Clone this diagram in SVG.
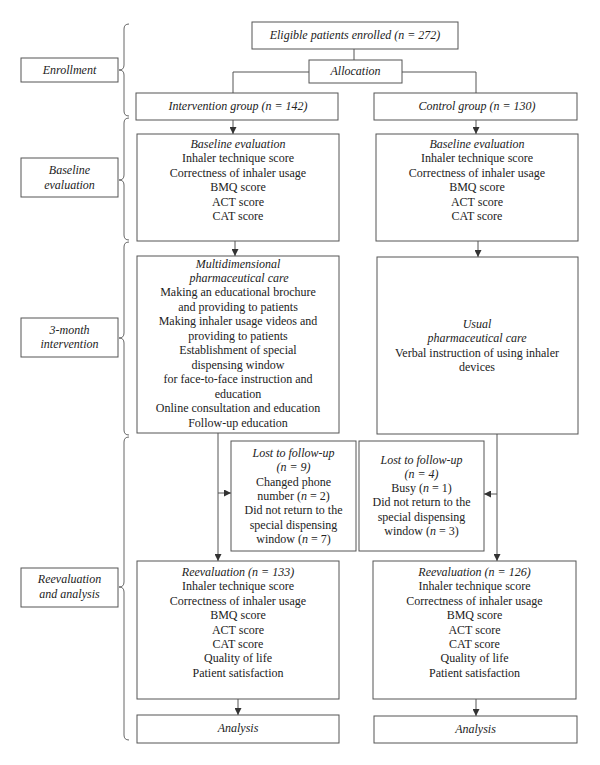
<svg xmlns="http://www.w3.org/2000/svg" width="600" height="765" viewBox="0 0 600 765">
<defs>
<style>
.box{fill:#fff;stroke:#555;stroke-width:1}
.ln{fill:none;stroke:#555;stroke-width:1}
.br{fill:none;stroke:#666;stroke-width:1}
.t{font-family:"Liberation Serif","Times New Roman",serif;font-size:12px;fill:#222;text-anchor:middle}
.i{font-style:italic}
</style>
<marker id="ar" markerUnits="userSpaceOnUse" markerWidth="7" markerHeight="7" refX="7" refY="3.5" orient="auto">
<path d="M0,0 L7,3.5 L0,7 z" fill="#333"/>
</marker>
</defs>
<rect width="600" height="765" fill="#fff"/>

<g id="braces">
<path class="br" d="M129,24 Q124,24 124,29 L124,65 Q124,70 119,70 Q124,70 124,75 L124,111 Q124,116 129,116"/>
<path class="br" d="M129,118 Q124,118 124,123 L124,175 Q124,180 119,180 Q124,180 124,185 L124,235 Q124,240 129,240"/>
<path class="br" d="M129,242 Q124,242 124,247 L124,333 Q124,338 119,338 Q124,338 124,343 L124,430 Q124,435 129,435"/>
<path class="br" d="M129,437 Q124,437 124,442 L124,582 Q124,587 119,587 Q124,587 124,592 L124,735 Q124,740 129,740"/>
</g>

<g id="connectors">
<path class="ln" d="M354,49 L354,60"/>
<path class="ln" d="M309,72 L233,72 L233,93"/>
<path class="ln" d="M402,72 L476,72 L476,93"/>
<path class="ln" d="M233,120 L233,134" marker-end="url(#ar)"/>
<path class="ln" d="M476,120 L476,134" marker-end="url(#ar)"/>
<path class="ln" d="M235,241 L235,256" marker-end="url(#ar)"/>
<path class="ln" d="M478,241 L478,257" marker-end="url(#ar)"/>
<path class="ln" d="M218,433 L218,561" marker-end="url(#ar)"/>
<path class="ln" d="M218,493 L231,493" marker-end="url(#ar)"/>
<path class="ln" d="M497,434 L497,561" marker-end="url(#ar)"/>
<path class="ln" d="M497,494 L484,494" marker-end="url(#ar)"/>
<path class="ln" d="M238,699 L238,715" marker-end="url(#ar)"/>
<path class="ln" d="M476,699 L476,716" marker-end="url(#ar)"/>
</g>

<g id="label-enrollment">
<rect class="box" x="21" y="58" width="97" height="24"/>
<text class="t i" x="69.5" y="73.5">Enrollment</text>
</g>
<g id="label-baseline">
<rect class="box" x="21" y="158" width="97" height="39"/>
<text class="t i" x="69.5" y="174">Baseline</text>
<text class="t i" x="69.5" y="188.5">evaluation</text>
</g>
<g id="label-intervention">
<rect class="box" x="21" y="318" width="97" height="39"/>
<text class="t i" x="69.5" y="333.5">3-month</text>
<text class="t i" x="69.5" y="348">intervention</text>
</g>
<g id="label-reevaluation">
<rect class="box" x="21" y="568" width="97" height="39"/>
<text class="t i" x="69.5" y="583">Reevaluation</text>
<text class="t i" x="69.5" y="597.5">and analysis</text>
</g>

<g id="eligible">
<rect class="box" x="252" y="22" width="206" height="27"/>
<text class="t i" x="355" y="39">Eligible patients enrolled (n = 272)</text>
</g>
<g id="allocation">
<rect class="box" x="309" y="60" width="93" height="23"/>
<text class="t i" x="355.5" y="75">Allocation</text>
</g>
<g id="intervention-group">
<rect class="box" x="136" y="93" width="202" height="27"/>
<text class="t i" x="238" y="110">Intervention group (n = 142)</text>
</g>
<g id="control-group">
<rect class="box" x="374" y="93" width="203" height="27"/>
<text class="t i" x="477" y="110">Control group (n = 130)</text>
</g>

<g id="baseline-left">
<rect class="box" x="137" y="134" width="202" height="107"/>
<text class="t i" x="238" y="147.5">Baseline evaluation</text>
<text class="t" x="238" y="162">Inhaler technique score</text>
<text class="t" x="238" y="176.5">Correctness of inhaler usage</text>
<text class="t" x="238" y="191">BMQ score</text>
<text class="t" x="238" y="205.5">ACT score</text>
<text class="t" x="238" y="220">CAT score</text>
</g>
<g id="baseline-right">
<rect class="box" x="376" y="134" width="202" height="107"/>
<text class="t i" x="477" y="147.5">Baseline evaluation</text>
<text class="t" x="477" y="162">Inhaler technique score</text>
<text class="t" x="477" y="176.5">Correctness of inhaler usage</text>
<text class="t" x="477" y="191">BMQ score</text>
<text class="t" x="477" y="205.5">ACT score</text>
<text class="t" x="477" y="220">CAT score</text>
</g>

<g id="multidimensional-care">
<rect class="box" x="137" y="256" width="202" height="177"/>
<text class="t i" x="238" y="267.5">Multidimensional</text>
<text class="t i" x="239" y="282">pharmaceutical care</text>
<text class="t" x="238" y="296.4">Making an educational brochure</text>
<text class="t" x="238" y="310.9">and providing to patients</text>
<text class="t" x="238" y="325.3">Making inhaler usage videos and</text>
<text class="t" x="238" y="339.8">providing to patients</text>
<text class="t" x="238" y="354.2">Establishment of special</text>
<text class="t" x="238" y="368.7">dispensing window</text>
<text class="t" x="238" y="383.1">for face-to-face instruction and</text>
<text class="t" x="238" y="397.6">education</text>
<text class="t" x="238" y="412">Online consultation and education</text>
<text class="t" x="238" y="426.5">Follow-up education</text>
</g>
<g id="usual-care">
<rect class="box" x="377" y="257" width="201" height="177"/>
<text class="t i" x="477" y="327.5">Usual</text>
<text class="t i" x="477" y="342">pharmaceutical care</text>
<text class="t" x="477" y="356.5">Verbal instruction of using inhaler</text>
<text class="t" x="477" y="371">devices</text>
</g>

<g id="lost-left">
<rect class="box" x="231" y="441" width="125" height="110"/>
<text class="t i" x="293.5" y="457">Lost to follow-up</text>
<text class="t i" x="293.5" y="471.3">(n = 9)</text>
<text class="t" x="293.5" y="485.6">Changed phone</text>
<text class="t" x="293.5" y="499.9">number (<tspan class="i">n</tspan> = 2)</text>
<text class="t" x="293.5" y="514.2">Did not return to the</text>
<text class="t" x="293.5" y="528.5">special dispensing</text>
<text class="t" x="293.5" y="542.8">window (<tspan class="i">n</tspan> = 7)</text>
</g>
<g id="lost-right">
<rect class="box" x="359" y="441" width="125" height="110"/>
<text class="t i" x="421.5" y="463.5">Lost to follow-up</text>
<text class="t i" x="421.5" y="477.8">(n = 4)</text>
<text class="t" x="421.5" y="492.1">Busy (<tspan class="i">n</tspan> = 1)</text>
<text class="t" x="421.5" y="506.4">Did not return to the</text>
<text class="t" x="421.5" y="520.7">special dispensing</text>
<text class="t" x="421.5" y="535">window (<tspan class="i">n</tspan> = 3)</text>
</g>

<g id="reevaluation-left">
<rect class="box" x="137" y="561" width="202" height="138"/>
<text class="t i" x="238" y="576">Reevaluation (n = 133)</text>
<text class="t" x="238" y="590.4">Inhaler technique score</text>
<text class="t" x="238" y="604.8">Correctness of inhaler usage</text>
<text class="t" x="238" y="619.2">BMQ score</text>
<text class="t" x="238" y="633.6">ACT score</text>
<text class="t" x="238" y="648">CAT score</text>
<text class="t" x="238" y="662.4">Quality of life</text>
<text class="t" x="238" y="676.8">Patient satisfaction</text>
</g>
<g id="reevaluation-right">
<rect class="box" x="373" y="561" width="203" height="138"/>
<text class="t i" x="474.5" y="576">Reevaluation (n = 126)</text>
<text class="t" x="474.5" y="590.4">Inhaler technique score</text>
<text class="t" x="474.5" y="604.8">Correctness of inhaler usage</text>
<text class="t" x="474.5" y="619.2">BMQ score</text>
<text class="t" x="474.5" y="633.6">ACT score</text>
<text class="t" x="474.5" y="648">CAT score</text>
<text class="t" x="474.5" y="662.4">Quality of life</text>
<text class="t" x="474.5" y="676.8">Patient satisfaction</text>
</g>

<g id="analysis-left">
<rect class="box" x="137" y="715" width="202" height="28"/>
<text class="t i" x="238" y="732">Analysis</text>
</g>
<g id="analysis-right">
<rect class="box" x="374" y="716" width="203" height="27"/>
<text class="t i" x="475.5" y="733">Analysis</text>
</g>
</svg>
